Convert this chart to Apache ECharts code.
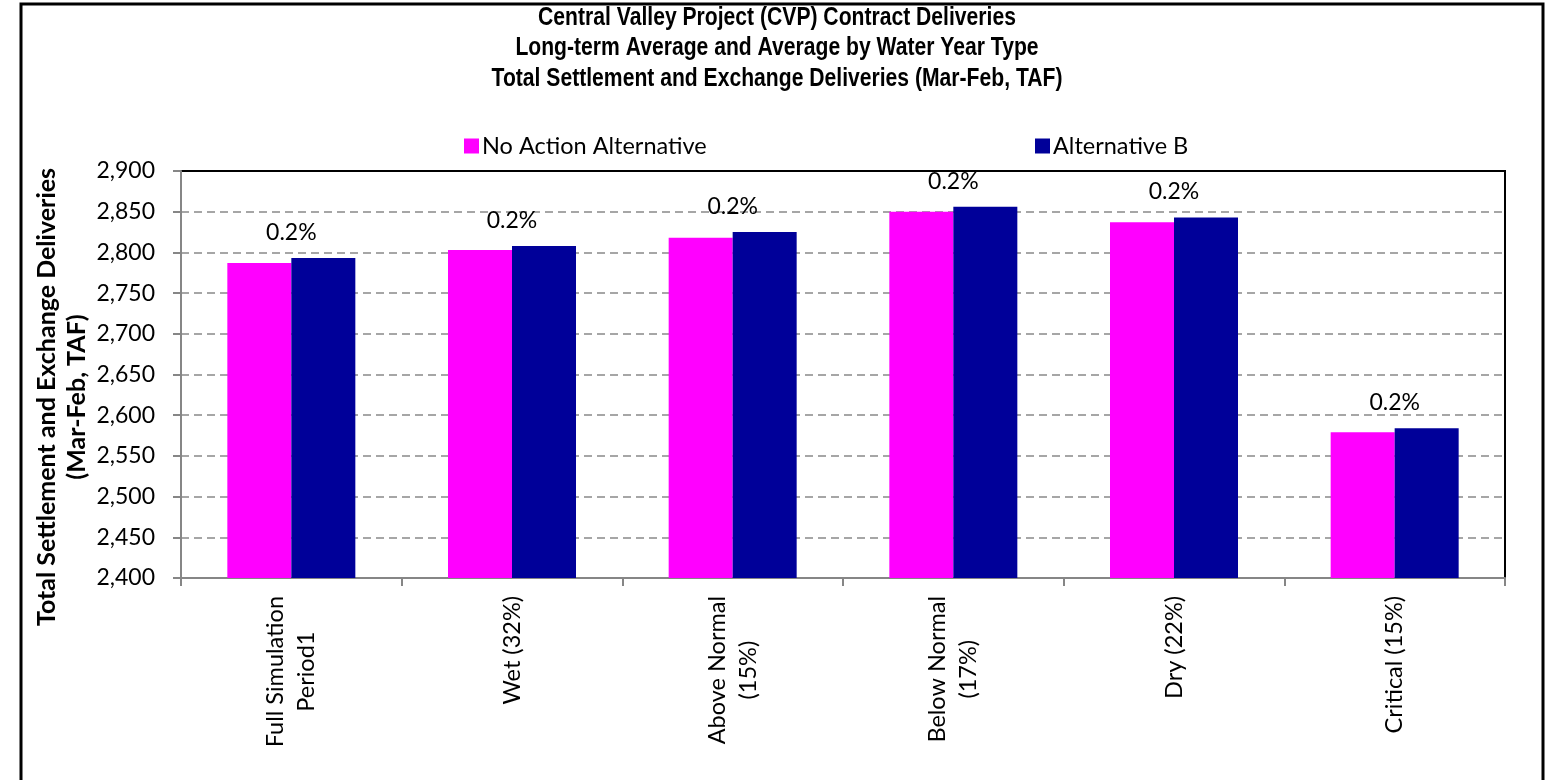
<!DOCTYPE html>
<html>
<head>
<meta charset="utf-8">
<script src="https://cdn.jsdelivr.net/npm/echarts@6/dist/echarts.min.js"></script>
<style>
html,body{margin:0;padding:0;background:#fff;}
#chart{width:1554px;height:780px;}
</style>
</head>
<body>
<div id="chart"></div>
<script>
const categories = ['Full Simulation\nPeriod1', 'Wet (32%)', 'Above Normal\n(15%)', 'Below Normal\n(17%)', 'Dry (22%)', 'Critical (15%)'];
const noActionValues = [2787, 2803, 2818, 2850, 2837, 2579];
const altBValues = [2793, 2808, 2825, 2856, 2843, 2584];
const pctLabels = ['0.2%', '0.2%', '0.2%', '0.2%', '0.2%', '0.2%'];
const seriesNames = ['No Action Alternative', 'Alternative B'];
const titleLines = [
  'Central Valley Project (CVP) Contract Deliveries',
  'Long-term Average and Average by Water Year Type',
  'Total Settlement and Exchange Deliveries (Mar-Feb, TAF)'
];
const yAxisTitle = 'Total Settlement and Exchange Deliveries\n(Mar-Feb, TAF)';
const yMin = 2400, yMax = 2900, yStep = 50;

const FONT = 'Lato, "Noto Sans", sans-serif';
const chart = echarts.init(document.getElementById('chart'));

const nSplit = Math.round((yMax - yMin) / yStep) + 1;
const splitColors = [];
for (let i = 0; i < nSplit; i++) splitColors.push(i === nSplit - 1 ? 'rgba(0,0,0,0)' : '#a6a6a6');

const titleY = [18, 48.5, 79];
const titleGraphics = titleLines.map((t, i) => ({
  type: 'text',
  x: 777, y: titleY[i],
  scaleX: 0.845, scaleY: 1,
  silent: true,
  style: {
    text: t,
    fontFamily: '"Liberation Sans", Arial, sans-serif',
    fontWeight: 'bold',
    fontSize: 25,
    textAlign: 'center',
    textVerticalAlign: 'middle',
    fill: '#000'
  }
}));

const legendCommon = {
  itemWidth: 15, itemHeight: 15, itemGap: 0,
  icon: 'rect',
  padding: 0,
  textStyle: { fontFamily: FONT, fontSize: 23.5, color: '#000', padding: [0, 0, 0, -2] }
};

const option = {
  animation: false,
  backgroundColor: '#fff',
  legend: [
    Object.assign({ data: [seriesNames[0]], left: 464, top: 134 }, legendCommon),
    Object.assign({ data: [seriesNames[1]], left: 1035, top: 134 }, legendCommon)
  ],
  grid: {
    left: 181, right: 49, top: 171, bottom: 202,
    show: true,
    borderColor: '#000',
    borderWidth: 2,
    containLabel: false
  },
  xAxis: {
    type: 'category',
    data: categories,
    axisLine: { show: true, lineStyle: { color: '#868686', width: 2 } },
    axisTick: { show: true, length: 8, lineStyle: { color: '#868686', width: 2 } },
    axisLabel: {
      rotate: 90,
      margin: 18,
      interval: 0,
      color: '#000',
      formatter: function (v) {
        return v.split('\n').map(s => '{a|' + s + '}').join('\n');
      },
      rich: {
        a: { fontFamily: FONT, fontSize: 23.5, lineHeight: 31, align: 'center', color: '#000' }
      }
    }
  },
  yAxis: {
    type: 'value',
    min: yMin, max: yMax, interval: yStep,
    axisLine: { show: true, lineStyle: { color: '#868686', width: 2 } },
    axisTick: { show: true, length: 8, lineStyle: { color: '#868686', width: 2 } },
    axisLabel: {
      margin: 26,
      fontFamily: FONT, fontSize: 23, color: '#000',
      formatter: v => v.toLocaleString('en-US')
    },
    splitLine: { show: true, lineStyle: { color: splitColors, width: 2, type: [8, 5] } }
  },
  series: [
    {
      name: seriesNames[0],
      type: 'bar',
      data: noActionValues,
      barWidth: 64,
      barGap: '0%',
      itemStyle: { color: '#FF00FF' }
    },
    {
      name: seriesNames[1],
      type: 'bar',
      data: altBValues,
      barWidth: 64,
      barGap: '0%',
      itemStyle: { color: '#000099' },
      label: {
        show: true,
        position: 'top',
        distance: 5,
        offset: [-32, -9],
        fontFamily: FONT, fontSize: 23, color: '#000',
        formatter: p => pctLabels[p.dataIndex]
      }
    }
  ],
  graphic: titleGraphics.concat([
    {
      type: 'rect',
      shape: { x: 21, y: 4, width: 1522, height: 800 },
      style: { fill: 'none', stroke: '#000', lineWidth: 3 },
      silent: true
    },
    {
      type: 'text',
      x: 62, y: 397,
      rotation: Math.PI / 2,
      silent: true,
      style: {
        text: yAxisTitle,
        fontFamily: FONT,
        fontWeight: 'bold',
        fontSize: 25,
        lineHeight: 30,
        textAlign: 'center',
        textVerticalAlign: 'middle',
        fill: '#000'
      }
    }
  ])
};
chart.setOption(option);
</script>
</body>
</html>
